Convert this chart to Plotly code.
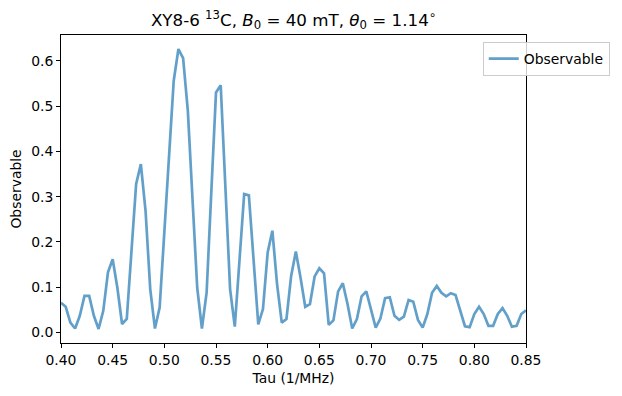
import numpy as np
import plotly.graph_objects as go

# Tau grid (1/MHz), 100 samples from 0.40 to 0.85
tau = np.linspace(0.40, 0.85, 100)

observable = [
    0.066, 0.057, 0.022, 0.009, 0.037, 0.081, 0.081, 0.037, 0.008, 0.048,
    0.133, 0.162, 0.099, 0.019, 0.030, 0.180, 0.328, 0.372, 0.269, 0.096,
    0.009, 0.055, 0.220, 0.390, 0.556, 0.626, 0.606, 0.490, 0.295, 0.099,
    0.009, 0.088, 0.310, 0.530, 0.546, 0.335, 0.096, 0.013, 0.165, 0.306,
    0.303, 0.155, 0.018, 0.052, 0.177, 0.225, 0.107, 0.022, 0.030, 0.125,
    0.179, 0.121, 0.057, 0.063, 0.124, 0.142, 0.131, 0.017, 0.027, 0.091,
    0.109, 0.063, 0.009, 0.030, 0.080, 0.091, 0.050, 0.011, 0.031, 0.076,
    0.078, 0.037, 0.028, 0.035, 0.072, 0.068, 0.028, 0.011, 0.041, 0.088,
    0.103, 0.088, 0.080, 0.087, 0.083, 0.048, 0.014, 0.012, 0.041, 0.057,
    0.041, 0.015, 0.015, 0.041, 0.054, 0.037, 0.013, 0.015, 0.041, 0.049,
]

x_ticks = [0.40, 0.45, 0.50, 0.55, 0.60, 0.65, 0.70, 0.75, 0.80, 0.85]
y_ticks = [0.0, 0.1, 0.2, 0.3, 0.4, 0.5, 0.6]

FONT = "DejaVu Sans"
FS = 13.9      # 10 pt at 100 dpi
FS_TITLE = 16.7  # 12 pt at 100 dpi

fig = go.Figure()
fig.add_trace(go.Scatter(
    x=tau, y=observable, mode="lines", name="Observable",
    line=dict(color="rgba(31,119,180,0.7)", width=2.7),
))

# page body has an 8px margin, compensate so the plot area lands at 61..526 x 35..343
fig.update_layout(
    width=622, height=396,
    margin=dict(l=53, r=104, t=27, b=61),
    paper_bgcolor="white", plot_bgcolor="white",
    font=dict(family=FONT, size=FS, color="black"),
    title=dict(
        text="XY8-6 <sup>13</sup>C, <i>B</i><sub>0</sub> = 40 mT, <i>θ</i><sub>0</sub> = 1.14<sup>∘</sup>",
        x=(293.5 - 8) / 622, xanchor="center",
        y=1 - 12 / 396, yanchor="middle",
        font=dict(family=FONT, size=FS_TITLE, color="black"),
    ),
    showlegend=True,
    legend=dict(
        x=0.907, y=0.977, xanchor="left", yanchor="top",
        bgcolor="rgba(255,255,255,0.8)", bordercolor="#cccccc", borderwidth=1,
        font=dict(family=FONT, size=FS, color="black"),
    ),
)

fig.update_xaxes(
    range=[0.40, 0.85], tickvals=x_ticks, ticktext=[f"{v:.2f}" for v in x_ticks],
    showgrid=False, zeroline=False, showline=True, linecolor="black", linewidth=1,
    mirror=True, ticks="outside", ticklen=4, tickwidth=1, tickcolor="black",
    automargin=False,
    title=dict(text="Tau (1/MHz)", standoff=6, font=dict(family=FONT, size=FS)),
    tickfont=dict(family=FONT, size=FS),
)
fig.update_yaxes(
    range=[-0.023, 0.657], tickvals=y_ticks, ticktext=[f"{v:.1f}" for v in y_ticks],
    showgrid=False, zeroline=False, showline=True, linecolor="black", linewidth=1,
    mirror=True, ticks="outside", ticklen=4, tickwidth=1, tickcolor="black",
    automargin=False,
    title=dict(text="Observable", standoff=7, font=dict(family=FONT, size=FS)),
    tickfont=dict(family=FONT, size=FS),
)

fig.write_html("out.html")
